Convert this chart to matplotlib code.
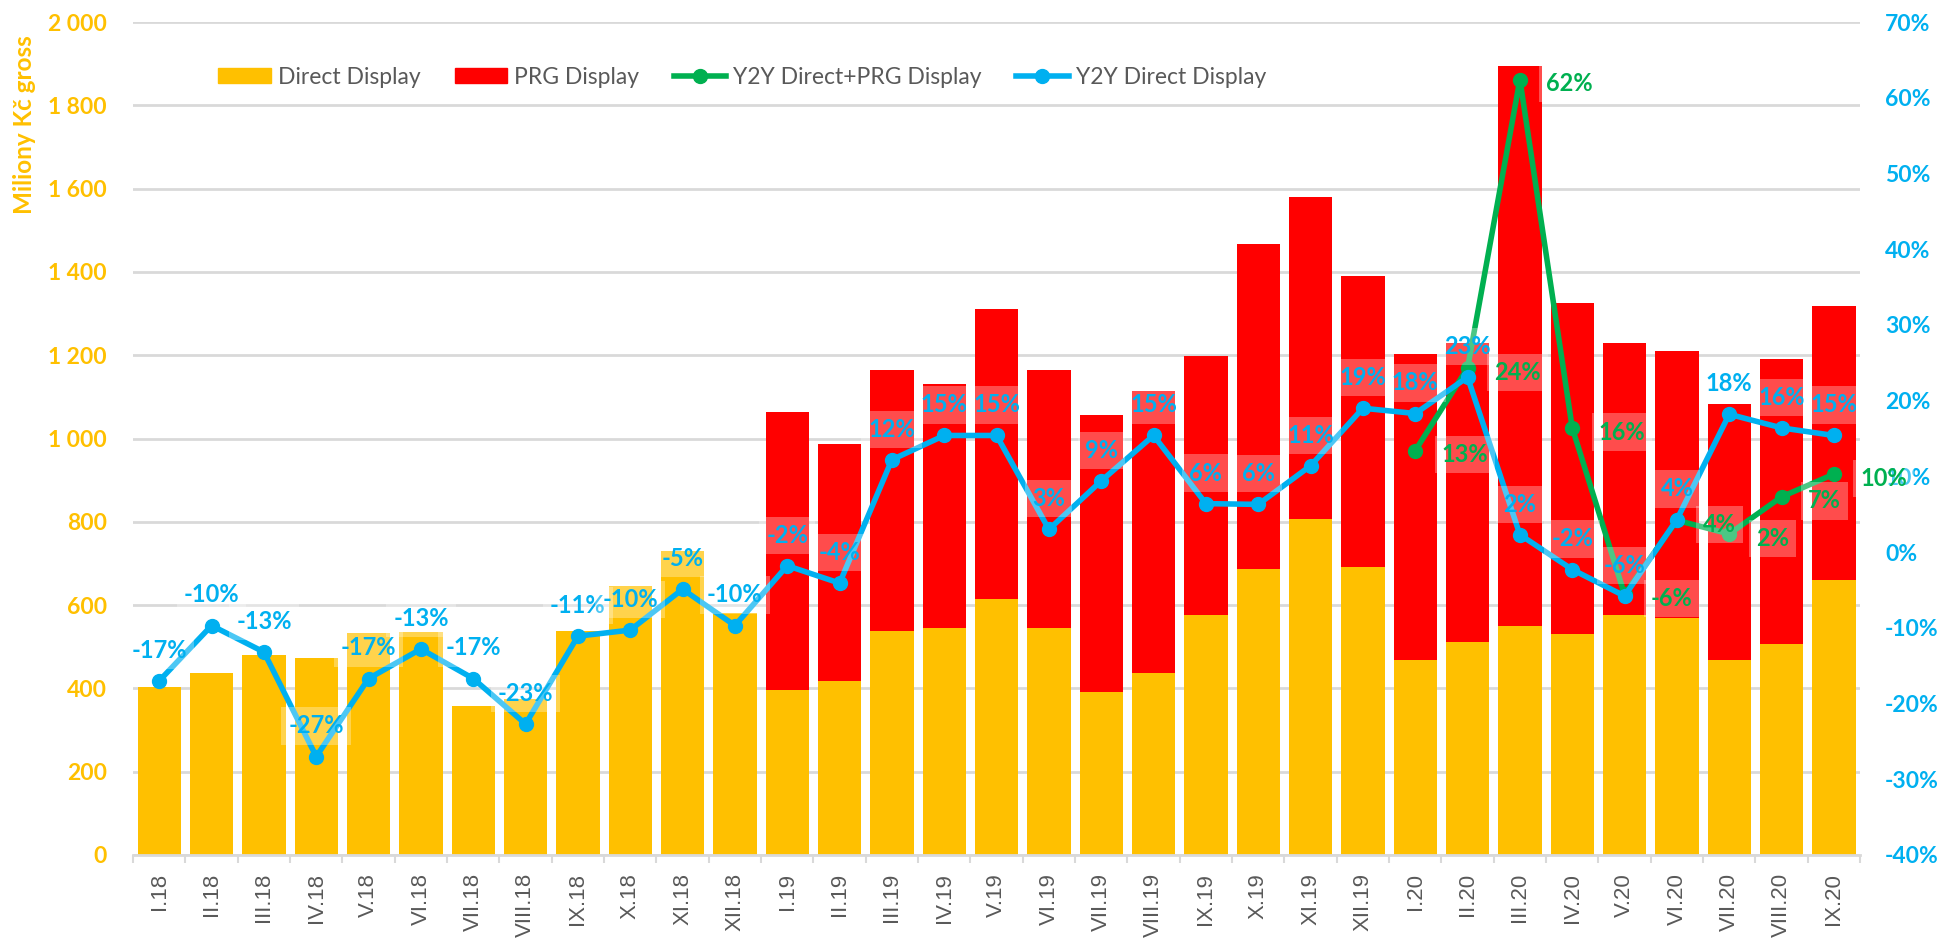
import numpy as np
import matplotlib
matplotlib.use("Agg")
import matplotlib.pyplot as plt
from matplotlib.lines import Line2D
from matplotlib.patches import Patch

plt.rcParams['font.family'] = ['Lato', 'DejaVu Sans']

months = ['I.18', 'II.18', 'III.18', 'IV.18', 'V.18', 'VI.18', 'VII.18', 'VIII.18', 'IX.18', 'X.18', 'XI.18', 'XII.18',
          'I.19', 'II.19', 'III.19', 'IV.19', 'V.19', 'VI.19', 'VII.19', 'VIII.19', 'IX.19', 'X.19', 'XI.19', 'XII.19',
          'I.20', 'II.20', 'III.20', 'IV.20', 'V.20', 'VI.20', 'VII.20', 'VIII.20', 'IX.20']

# miliony Kč gross
direct = [404, 436, 480, 474, 532, 535, 358, 375, 538, 647, 730, 582,
          397, 417, 538, 544, 615, 544, 391, 436, 576, 686, 807, 691,
          468, 512, 551, 531, 576, 570, 468, 507, 660]
prg = [0, 0, 0, 0, 0, 0, 0, 0, 0, 0, 0, 0,
       667, 569, 627, 588, 697, 621, 665, 678, 621, 780, 774, 698,
       736, 717, 1344, 794, 653, 640, 614, 684, 659]

# meziroční změna v %
y2y_direct = [-17.0, -9.7, -13.2, -27.0, -16.7, -12.8, -16.7, -22.7, -11.1, -10.3, -4.9, -9.7,
              -1.8, -4.1, 12.2, 15.4, 15.4, 3.0, 9.4, 15.4, 6.4, 6.3, 11.4, 19.0,
              18.3, 23.1, 2.3, -2.3, -5.8, 4.3, 18.2, 16.4, 15.4]
y2y_total = [np.nan] * 24 + [13.4, 24.3, 62.4, 16.4, -5.6, 4.2, 2.4, 7.3, 10.3]

YELLOW = '#FFC000'
RED = '#FF0000'
BLUE = '#00B0F0'
GREEN = '#00B050'
GRID = '#D9D9D9'
GRAY = '#595959'

fig = plt.figure(figsize=(19.4, 9.41), dpi=100)
ax = fig.add_axes([0.0686, 0.0914, 0.8902, 0.8852])
ax2 = ax.twinx()

x = np.arange(len(months))
ax.bar(x, direct, width=0.83, color=YELLOW, label='Direct Display')
ax.bar(x, prg, width=0.83, bottom=direct, color=RED, label='PRG Display')

ax.set_ylim(0, 2000)
ax.set_yticks(range(0, 2001, 200))
ax.set_yticklabels([f'{v:,}'.replace(',', ' ') for v in range(0, 2001, 200)])
ax.set_xlim(-0.5, len(months) - 0.5)
ax.set_xticks(x)
ax.set_xticklabels(months, rotation=90, color=GRAY, fontsize=16, family='Liberation Sans')
ax.set_xticks(np.arange(-0.5, len(months), 1), minor=True)
ax.tick_params(axis='x', which='major', length=0, pad=13)
ax.tick_params(axis='x', which='minor', length=6, width=1.5, color=GRID)
ax.tick_params(axis='y', length=0, pad=19, labelcolor=YELLOW, labelsize=16.5)
for lbl in ax.get_yticklabels():
    lbl.set_fontweight('bold')
ax.grid(axis='y', color=GRID, lw=2)
ax.set_axisbelow(True)
for s in ['top', 'left', 'right']:
    ax.spines[s].set_visible(False)
ax.spines['bottom'].set_color(GRID)
ax.spines['bottom'].set_linewidth(2)

ax2.plot(x, y2y_total, color=GREEN, lw=4, marker='o', ms=10, zorder=3)
ax2.plot(x, y2y_direct, color=BLUE, lw=4, marker='o', ms=10, zorder=4)
ax2.set_ylim(-40, 70)
ax2.set_yticks(range(-40, 71, 10))
ax2.set_yticklabels([f'{v}%' for v in range(-40, 71, 10)])
ax2.tick_params(axis='y', length=0, pad=18, labelcolor=BLUE, labelsize=16.5)
for lbl in ax2.get_yticklabels():
    lbl.set_fontweight('bold')
for s in ax2.spines.values():
    s.set_visible(False)

box = dict(boxstyle='square,pad=0.3', fc='white', ec='none', alpha=0.3)
for i, v in enumerate(y2y_direct):
    ax2.annotate(f'{v:.0f}%', (i, v), xytext=(0, 22), textcoords='offset points',
                 ha='center', va='center', color=BLUE, fontsize=17, fontweight='bold',
                 bbox=box, zorder=6)
for i, v in enumerate(y2y_total):
    if np.isnan(v):
        continue
    ax2.annotate(f'{v:.0f}%', (i, v), xytext=(19, -3), textcoords='offset points',
                 ha='left', va='center', color=GREEN, fontsize=17, fontweight='bold',
                 bbox=box, zorder=6)

fig.text(0.0128, 0.868, 'Miliony Kč gross', rotation=90, ha='center', va='center',
         color=YELLOW, fontsize=17.5, fontweight='bold')

handles = [Patch(color=YELLOW), Patch(color=RED),
           Line2D([], [], color=GREEN, lw=4, marker='o', ms=10),
           Line2D([], [], color=BLUE, lw=4, marker='o', ms=10)]
names = ['Direct Display', 'PRG Display', 'Y2Y Direct+PRG Display', 'Y2Y Direct Display']
leg = fig.legend(handles, names, loc='center', bbox_to_anchor=(0.3825, 0.918), ncol=4, frameon=False,
                 fontsize=16.5, handlelength=2.3, handleheight=0.6, handletextpad=0.3, columnspacing=1.5)
for t in leg.get_texts():
    t.set_color(GRAY)

fig.savefig('out.png', dpi=100)
